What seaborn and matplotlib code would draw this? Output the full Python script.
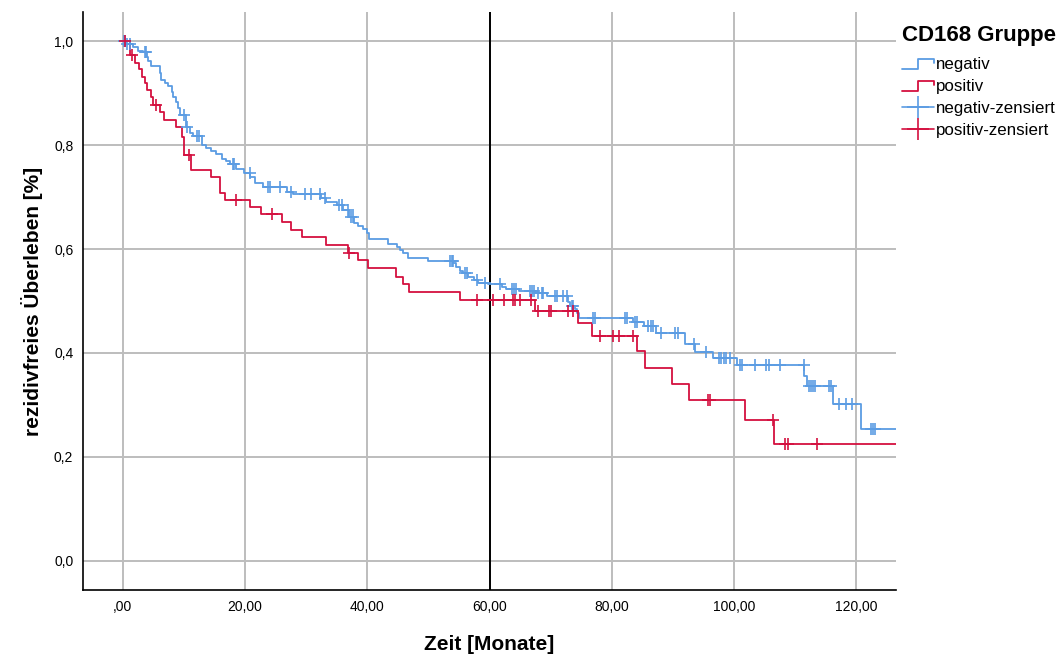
import numpy as np
import pandas as pd
import matplotlib
matplotlib.use("Agg")
import matplotlib.pyplot as plt
import seaborn as sns
from matplotlib.lines import Line2D
from matplotlib.legend_handler import HandlerBase

# Kaplan-Meier steps (time in months, survival after step)
neg_event_t = [0.5, 1.7, 2.5, 3.3, 4.0, 4.1, 4.7, 6.1, 6.3, 6.9, 7.4, 8.0, 8.2, 8.7, 9.1, 9.3,
               10.3, 11.0, 11.5, 12.9, 13.7, 14.5, 15.3, 16.2, 16.9, 17.5, 18.6, 19.9, 20.9,
               21.6, 23.0, 26.9, 27.8, 32.4, 33.3, 35.0, 36.1, 37.0, 37.8, 38.5, 39.3, 39.9,
               40.3, 43.4, 44.8, 45.3, 45.9, 46.7, 49.9, 54.1, 54.6, 55.2, 55.6, 56.5, 57.4,
               58.2, 59.8, 62.0, 62.7, 64.8, 67.5, 69.4, 72.9, 73.2, 74.0, 74.3, 74.6, 83.5,
               85.2, 87.3, 92.0, 93.6, 96.5, 100.5, 111.5, 111.9, 116.2, 120.7]
neg_event_s = [0.995, 0.988, 0.981, 0.979, 0.970, 0.962, 0.952, 0.938, 0.925, 0.919, 0.913,
               0.9025, 0.893, 0.883, 0.8705, 0.858, 0.835, 0.8225, 0.817, 0.80, 0.794, 0.789,
               0.783, 0.774, 0.77, 0.763, 0.753, 0.747, 0.739, 0.727, 0.72, 0.71, 0.705, 0.6975,
               0.691, 0.685, 0.675, 0.662, 0.651, 0.644, 0.638, 0.63, 0.62, 0.61, 0.604, 0.598,
               0.592, 0.582, 0.576, 0.5725, 0.566, 0.558, 0.553, 0.547, 0.540, 0.535, 0.532,
               0.527, 0.523, 0.519, 0.515, 0.51, 0.499, 0.49, 0.484, 0.4775, 0.468, 0.460,
               0.452, 0.439, 0.417, 0.4025, 0.391, 0.377, 0.356, 0.3365, 0.302, 0.253]
neg_cens_t = [0.2, 0.4, 0.7, 1.2, 3.6, 3.8, 10.0, 10.5, 12.2, 12.5, 18.1, 18.2, 20.8, 23.7,
              24.1, 25.7, 27.5, 29.8, 30.8, 32.3, 33.1, 35.4, 35.8, 36.9, 37.3, 37.6, 53.5,
              53.8, 54.0, 56.0, 56.4, 57.9, 59.3, 61.7, 63.6, 64.0, 64.4, 66.7, 67.0, 67.2,
              68.0, 68.6, 68.8, 70.7, 71.0, 72.1, 72.6, 73.5, 73.7, 77.0, 77.3, 82.2, 82.5,
              83.8, 84.2, 85.9, 86.4, 86.8, 88.0, 90.4, 90.8, 93.5, 95.4, 97.5, 97.9, 98.3,
              98.7, 99.3, 100.9, 101.3, 103.5, 105.3, 105.8, 107.6, 111.4, 112.2, 112.6,
              112.9, 113.3, 115.5, 115.9, 117.1, 118.4, 119.3, 122.4, 122.8, 123.1]

pos_event_t = [1.25, 1.96, 2.67, 3.2, 3.6, 4.0, 4.6, 5.0, 6.06, 6.77, 8.7, 9.7, 10.0, 11.1,
               14.5, 15.9, 16.7, 20.8, 22.7, 26.0, 27.6, 29.4, 33.3, 36.9, 38.5, 40.2, 44.7,
               45.9, 46.8, 55.1, 67.4, 74.5, 76.8, 84.2, 85.5, 89.8, 92.7, 101.8, 106.5]
pos_event_s = [0.973, 0.957, 0.9455, 0.931, 0.919, 0.906, 0.893, 0.877, 0.864, 0.849, 0.835,
               0.816, 0.781, 0.752, 0.739, 0.708, 0.694, 0.681, 0.667, 0.6525, 0.6365, 0.6225,
               0.6077, 0.5917, 0.579, 0.563, 0.547, 0.532, 0.517, 0.502, 0.481, 0.457, 0.433,
               0.404, 0.372, 0.340, 0.310, 0.271, 0.2256]
pos_cens_t = [0.3, 1.5, 5.4, 10.9, 18.5, 24.4, 37.0, 58.0, 60.6, 62.4, 63.9, 64.2, 65.0, 66.8,
              68.0, 69.7, 70.1, 72.9, 73.6, 78.0, 80.2, 81.2, 83.5, 95.7, 96.0, 106.4, 108.4,
              108.9, 113.6]

groups = ["negativ", "positiv"]
end_time = 127.0
x_ticks = [0, 20, 40, 60, 80, 100, 120]
x_ticklabels = [",00", "20,00", "40,00", "60,00", "80,00", "100,00", "120,00"]
y_ticks = [0.0, 0.2, 0.4, 0.6, 0.8, 1.0]
y_ticklabels = ["0,0", "0,2", "0,4", "0,6", "0,8", "1,0"]

colors = {"negativ": "#5b9ce3", "positiv": "#d4103f"}


def surv_at(t_events, s_events, t):
    idx = np.searchsorted(t_events, t, side="right")
    s = np.concatenate([[1.0], s_events])
    return s[idx]


curves = []
marks = []
for g, et, es, ct in [("negativ", neg_event_t, neg_event_s, neg_cens_t),
                      ("positiv", pos_event_t, pos_event_s, pos_cens_t)]:
    t = [0.0] + et + [end_time]
    s = [1.0] + es + [es[-1]]
    curves.append(pd.DataFrame({"zeit": t, "surv": s, "gruppe": g}))
    marks.append(pd.DataFrame({"zeit": ct,
                               "surv": surv_at(np.array(et), np.array(es), np.array(ct)),
                               "gruppe": g}))
curve_df = pd.concat(curves, ignore_index=True)
mark_df = pd.concat(marks, ignore_index=True)

sns.set_style("white")
plt.rcParams["font.family"] = ["Liberation Sans", "DejaVu Sans"]
for key in ["text.color", "axes.labelcolor", "xtick.color", "ytick.color"]:
    plt.rcParams[key] = "black"

fig = plt.figure(figsize=(10.64, 6.57), dpi=100)
ax = fig.add_axes([83 / 1064, 1 - 590 / 657, (896 - 83) / 1064, (590 - 12) / 657])

for y in y_ticks:
    ax.axhline(y, color="#bdbdbd", lw=1.4, zorder=0)
for x in x_ticks:
    ax.axvline(x, color="#bdbdbd", lw=1.4, zorder=0)
ax.axvline(60, color="black", lw=1.4, zorder=1)

for g in groups:
    sns.lineplot(data=curve_df[curve_df.gruppe == g], x="zeit", y="surv", color=colors[g],
                 drawstyle="steps-post", estimator=None, sort=False, lw=1.3, ax=ax,
                 legend=False, zorder=3)
    sns.scatterplot(data=mark_df[mark_df.gruppe == g], x="zeit", y="surv", color=colors[g],
                    marker="+", s=70, linewidth=1.2, ax=ax, legend=False, zorder=4)

ax.set_xlim(-6.5, 126.5)
ax.set_ylim(-0.056, 1.056)
ax.set_xticks(x_ticks)
ax.set_xticklabels(x_ticklabels, fontsize=10)
ax.set_yticks(y_ticks)
ax.set_yticklabels(y_ticklabels, fontsize=10)
ax.tick_params(axis="x", length=0, pad=7)
ax.tick_params(axis="y", length=0, pad=7)
for side in ["top", "right"]:
    ax.spines[side].set_visible(False)
for side in ["left", "bottom"]:
    ax.spines[side].set_color("black")
    ax.spines[side].set_linewidth(1.2)

ax.set_xlabel("Zeit [Monate]", fontsize=15, fontweight="bold", labelpad=15)
ax.set_ylabel("rezidivfreies Überleben [%]", fontsize=15, fontweight="bold", labelpad=8)


class StepHandler(HandlerBase):
    def create_artists(self, legend, orig_handle, xdescent, ydescent, width, height,
                       fontsize, trans):
        xs = np.array([0, 0.5, 0.5, 1.0, 1.0]) * width - xdescent
        ys = np.array([0.05, 0.05, 0.85, 0.85, 0.5]) * height - ydescent
        line = Line2D(xs, ys, color=orig_handle.get_color(), lw=1.3, transform=trans)
        return [line]


step_neg = Line2D([], [], color=colors["negativ"])
step_pos = Line2D([], [], color=colors["positiv"])
cens_neg = Line2D([], [], color=colors["negativ"], marker="+", markersize=16, lw=1.2,
                  markeredgewidth=1.2)
cens_pos = Line2D([], [], color=colors["positiv"], marker="+", markersize=16, lw=1.2,
                  markeredgewidth=1.2)
leg = fig.legend([step_neg, step_pos, cens_neg, cens_pos],
                 ["negativ", "positiv", "negativ-zensiert", "positiv-zensiert"],
                 handler_map={step_neg: StepHandler(), step_pos: StepHandler()},
                 loc="upper left", bbox_to_anchor=(887 / 1064, 1 - 10 / 657),
                 frameon=False, fontsize=12.2, title="CD168 Gruppe",
                 title_fontproperties={"weight": "bold", "size": 16},
                 alignment="left", handlelength=1.85, handletextpad=0.15, labelspacing=0.4)
leg._legend_box.sep = 8

fig.savefig("out.png", dpi=100, facecolor="white")
